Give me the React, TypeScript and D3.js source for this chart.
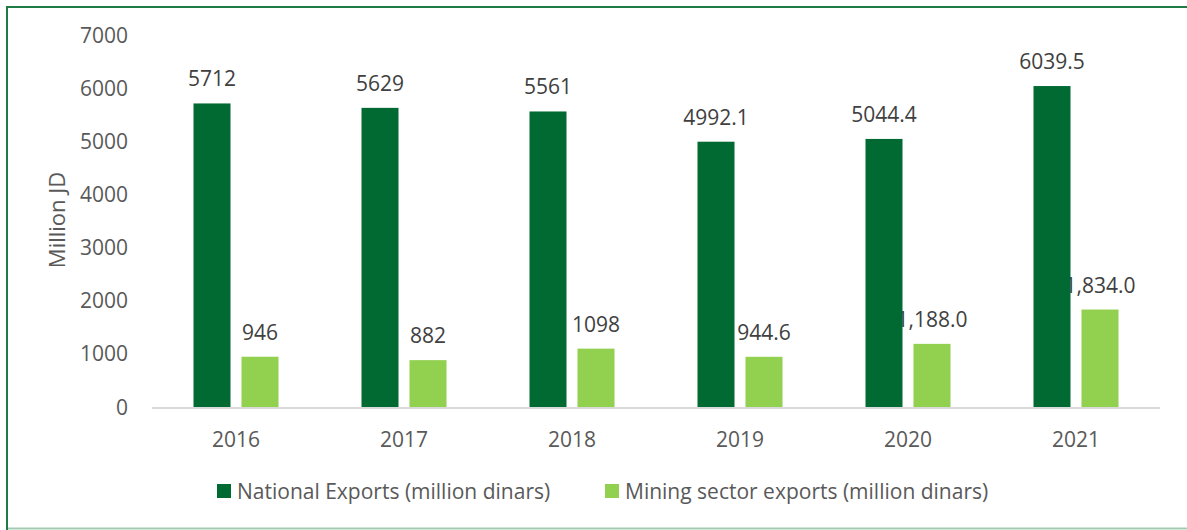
import * as d3 from 'd3';
import React, {useEffect, useRef} from 'react';

const years = ["2016", "2017", "2018", "2019", "2020", "2021"];
const series = ["National Exports (million dinars)", "Mining sector exports (million dinars)"];
const nationalExports = [5712, 5629, 5561, 4992.1, 5044.4, 6039.5];
const miningExports = [946, 882, 1098, 944.6, 1188.0, 1834.0];
const nationalLabels = ["5712", "5629", "5561", "4992.1", "5044.4", "6039.5"];
const miningLabels = ["946", "882", "1098", "944.6", "1,188.0", "1,834.0"];
const yTicks = [0, 1000, 2000, 3000, 4000, 5000, 6000, 7000];

const colors = ["#006A32", "#92D050"];
const textColor = "#595959";
const font = "'Open Sans', sans-serif";

export default function App() {
    const ref = useRef<SVGSVGElement | null>(null);

    useEffect(() => {
        document.body.style.margin = "0";
        const svg = d3.select(ref.current);
        svg.selectAll("*").remove();

        const width = 1187;

        // frame (left + top green, bottom pale)
        svg.append("line").attr("x1", 7).attr("x2", 7).attr("y1", 6).attr("y2", 530)
            .attr("stroke", "#1E7B45").attr("stroke-width", 2);
        svg.append("line").attr("x1", 6).attr("x2", width).attr("y1", 7).attr("y2", 7)
            .attr("stroke", "#1E7B45").attr("stroke-width", 2);
        svg.append("line").attr("x1", 8).attr("x2", width).attr("y1", 528.5).attr("y2", 528.5)
            .attr("stroke", "#A3CBB3").attr("stroke-width", 2);

        const xScale = d3.scaleBand().domain(years).range([152, 1160]);
        const xInScale = d3.scaleBand().domain(series).range([-42.5, 42.5]).paddingInner(11 / 48);
        const yScale = d3.scaleLinear().domain([0, 7000]).range([407, 35]);

        // y tick labels
        svg.append("g").selectAll("text")
            .data(yTicks)
            .enter().append("text")
            .attr("x", 128)
            .attr("y", (d) => yScale(d))
            .attr("dy", "0.36em")
            .attr("text-anchor", "end")
            .text((d) => d)
            .style("font-family", font).style("font-size", "21px").attr("fill", textColor);

        // y axis title
        svg.append("text")
            .text("Million JD")
            .attr("transform", "translate(65, 220) rotate(-90)")
            .attr("text-anchor", "middle")
            .style("font-family", font).style("font-size", "22px").attr("fill", textColor);

        // x baseline
        svg.append("line")
            .attr("x1", 152).attr("x2", 1160)
            .attr("y1", yScale(0) + 1).attr("y2", yScale(0) + 1)
            .attr("stroke", "#D9D9D9").attr("stroke-width", 2);

        // year labels
        svg.append("g").selectAll("text")
            .data(years)
            .enter().append("text")
            .attr("x", (d) => (xScale(d) as number) + xScale.bandwidth() / 2)
            .attr("y", 447)
            .attr("text-anchor", "middle")
            .text((d) => d)
            .style("font-family", font).style("font-size", "21px").attr("fill", textColor);

        const data = years.map((y, i) => ({
            year: y,
            values: [
                {key: series[0], value: nationalExports[i], label: nationalLabels[i], c: 0},
                {key: series[1], value: miningExports[i], label: miningLabels[i], c: 1},
            ],
        }));

        const groups = svg.append("g").selectAll("g.region")
            .data(data)
            .enter().append("g").attr("class", "region")
            .attr("transform", (d) => `translate(${(xScale(d.year) as number) + xScale.bandwidth() / 2}, 0)`);

        // labels drawn first so the bars sit over them, as in the source
        groups.selectAll("text.value")
            .data((d) => d.values)
            .enter().append("text").attr("class", "value")
            .attr("x", (d) => (xInScale(d.key) as number) + xInScale.bandwidth() / 2)
            .attr("y", (d) => yScale(d.value) - 17)
            .attr("text-anchor", "middle")
            .text((d) => d.label)
            .style("font-family", font).style("font-size", "21px").attr("fill", "#404040");

        groups.selectAll("rect.bar")
            .data((d) => d.values)
            .enter().append("rect").attr("class", "bar")
            .attr("x", (d) => xInScale(d.key) as number)
            .attr("width", xInScale.bandwidth())
            .attr("y", (d) => yScale(d.value))
            .attr("height", (d) => yScale(0) - yScale(d.value))
            .attr("fill", (d) => colors[d.c]);

        // legend
        const legendX = [217, 605];
        const legend = svg.append("g").attr("class", "legend");
        legend.selectAll("rect")
            .data(series)
            .enter().append("rect")
            .attr("x", (d, i) => legendX[i]).attr("y", 484)
            .attr("width", 14).attr("height", 14)
            .attr("fill", (d, i) => colors[i]);
        legend.selectAll("text")
            .data(series)
            .enter().append("text")
            .attr("x", (d, i) => legendX[i] + 20).attr("y", 491)
            .attr("dy", "0.36em")
            .text((d) => d)
            .style("font-family", font).style("font-size", "21px").attr("fill", textColor);
    }, []);

    return (
        <div>
            <svg ref={ref} width={1187} height={530} style={{display: "block", background: "#fff"}} />
        </div>
    );
}
